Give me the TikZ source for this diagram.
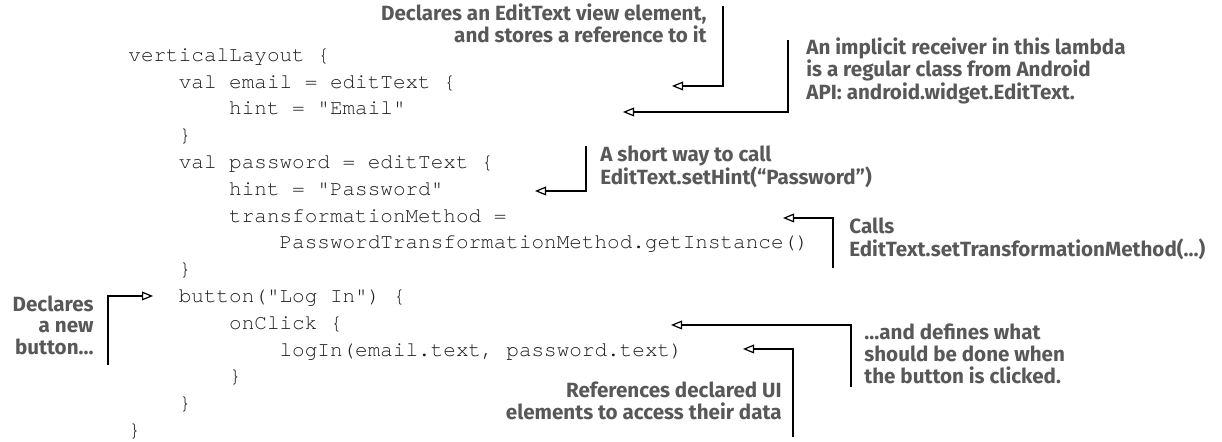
\documentclass[tikz,border=0pt]{standalone}
\usepackage{fontspec}
\usetikzlibrary{arrows.meta}
\newfontfamily\codefont{texgyrecursor-regular.otf}
\newfontfamily\annfont{Fira Sans}
\definecolor{anngray}{RGB}{88,88,88}
\definecolor{codeblack}{RGB}{30,30,30}
\tikzset{
  code/.style={anchor=mid west, inner sep=0pt, text=codeblack, font=\codefont\fontsize{10.5}{13}\selectfont},
  annl/.style={anchor=mid west, inner sep=0pt, text=anngray, font=\annfont\bfseries\fontsize{10.3}{11}\selectfont},
  annr/.style={annl, anchor=mid east},
  conn/.style={line width=0.6pt, -{Triangle[open,length=5.5pt,width=4.4pt]}},
}
\begin{document}
\begin{tikzpicture}[x=0.5pt,y=-0.5pt]
\useasboundingbox (0,0) rectangle (1222,442);
% code
\node[code] (l0)  at (128,57)     {verticalLayout \{};
\node[code] (l1)  at (178.4,83.8) {val email = editText \{};
\node[code] (l2)  at (228.8,110.6){hint = "Email"};
\node[code] (l3)  at (178.4,137.4){\}};
\node[code] (l4)  at (178.4,164.2){val password = editText \{};
\node[code] (l5)  at (228.8,191)  {hint = "Password"};
\node[code] (l6)  at (228.8,217.8){transformationMethod =};
\node[code] (l7)  at (279.2,244.6){PasswordTransformationMethod.getInstance()};
\node[code] (l8)  at (178.4,271.4){\}};
\node[code] (l9)  at (178.4,298.2){button("Log In") \{};
\node[code] (l10) at (228.8,325)  {onClick \{};
\node[code] (l11) at (279.2,351.8){logIn(email.text, password.text)};
\node[code] (l12) at (228.8,378.6){\}};
\node[code] (l13) at (178.4,405.4){\}};
\node[code] (l14) at (128,432.2)  {\}};
% annotation 1
\node[annr] (a1a) at (707,16) {Declares an EditText view element,};
\node[annr] (a1b) at (707,38) {and stores a reference to it};
% annotation 2
\node[annl] (a2a) at (806,50) {An implicit receiver in this lambda};
\node[annl] (a2b) at (806,72.5) {is a regular class from Android};
\node[annl] (a2c) at (806,95) {API: android.widget.EditText.};
% annotation 3
\node[annl] (a3a) at (600,157) {A short way to call};
\node[annl] (a3b) at (600,180) {EditText.setHint(“Password”)};
% annotation 4
\node[annl] (a4a) at (849,229) {Calls};
\node[annl] (a4b) at (849,252) {EditText.setTransformationMethod(…)};
% annotation 5
\node[annr] (a5a) at (94,307) {Declares};
\node[annr] (a5b) at (94,328.5) {a new};
\node[annr] (a5c) at (94,350) {button…};
% annotation 6
\node[annl] (a6a) at (864,335) {…and defines what};
\node[annl] (a6b) at (864,357) {should be done when};
\node[annl] (a6c) at (864,379) {the button is clicked.};
% annotation 7
\node[annr] (a7a) at (782,393) {References declared UI};
\node[annr] (a7b) at (782,415) {elements to access their data};
% connector coordinates
\coordinate (c1s) at (723,6);   \coordinate (c1e) at (672,86);
\coordinate (c2s) at (788,40);  \coordinate (c2e) at (623,112);
\coordinate (c3s) at (586,146); \coordinate (c3e) at (535,191);
\coordinate (c4s) at (833,268); \coordinate (c4e) at (783,218);
\coordinate (c5s) at (108,365); \coordinate (c5e) at (153,296);
\coordinate (c6s) at (851,387); \coordinate (c6e) at (671,325);
\coordinate (c7s) at (793,437); \coordinate (c7e) at (743,349);
\draw[conn] (c1s) |- (c1e);
\draw[conn] (c2s) |- (c2e);
\draw[conn] (c3s) |- (c3e);
\draw[conn] (c4s) |- (c4e);
\draw[conn] (c5s) |- (c5e);
\draw[conn] (c6s) |- (c6e);
\draw[conn] (c7s) |- (c7e);
\end{tikzpicture}
\end{document}
